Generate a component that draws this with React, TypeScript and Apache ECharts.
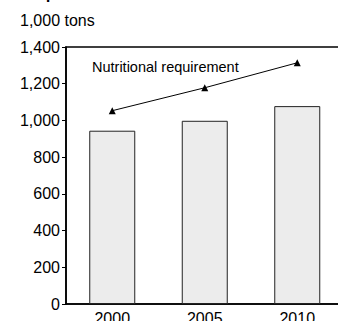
import React, { useEffect, useRef } from "react";
import * as echarts from "echarts";

const years = ["2000", "2005", "2010"];
const supply = [944, 998, 1078];
const requirement = [1053, 1178, 1314];
const unitLabel = "1,000 tons";
const titleText = "Requirements";
const lineLabel = "Nutritional requirement";

export default function App() {
  const ref = useRef<HTMLDivElement>(null);
  useEffect(() => {
    if (!ref.current) return;
    const chart = echarts.init(ref.current, null, { renderer: "svg" });
    const font = "'Liberation Sans', Arial, sans-serif";
    chart.setOption({
      animation: false,
      grid: {
        left: 66,
        right: -5.5,
        top: 47,
        bottom: 17,
        outerBoundsMode: "none",
        containLabel: false,
        show: true,
        borderColor: "#000",
        borderWidth: 1.5,
        backgroundColor: "transparent",
      },
      xAxis: {
        type: "category",
        data: years,
        axisLine: { lineStyle: { color: "#000", width: 1.6 } },
        axisTick: { show: false },
        axisLabel: { color: "#000", fontSize: 16, fontFamily: font, margin: 6 },
      },
      yAxis: {
        type: "value",
        min: 0,
        max: 1400,
        interval: 200,
        splitLine: { show: false },
        axisLine: { show: true, lineStyle: { color: "#000", width: 1.6 } },
        axisTick: { show: true, length: 4, lineStyle: { color: "#000" } },
        axisLabel: {
          color: "#000",
          fontSize: 16,
          fontFamily: font,
          margin: 6,
          formatter: (v: number) => v.toLocaleString("en-US"),
        },
      },
      graphic: [
        {
          type: "text",
          left: 20,
          top: 12,
          style: { text: unitLabel, fontSize: 16, fontFamily: font, fill: "#000" },
        },
        {
          type: "text",
          left: 20,
          top: -15,
          style: { text: titleText, fontSize: 16, fontWeight: "bold", fontFamily: font, fill: "#000" },
        },
        {
          type: "text",
          left: 92,
          top: 59,
          style: { text: lineLabel, fontSize: 14.5, fontFamily: font, fill: "#000" },
        },
      ],
      series: [
        {
          type: "bar",
          data: supply,
          barWidth: 46,
          itemStyle: { color: "#ececec", borderColor: "#222", borderWidth: 1 },
        },
        {
          type: "line",
          data: requirement,
          symbol: "triangle",
          symbolSize: 7,
          lineStyle: { color: "#000", width: 1 },
          itemStyle: { color: "#000" },
        },
      ],
    });
    return () => chart.dispose();
  }, []);
  return (
    <div
      ref={ref}
      style={{ position: "absolute", left: 0, top: 0, width: 338, height: 321 }}
    />
  );
}
